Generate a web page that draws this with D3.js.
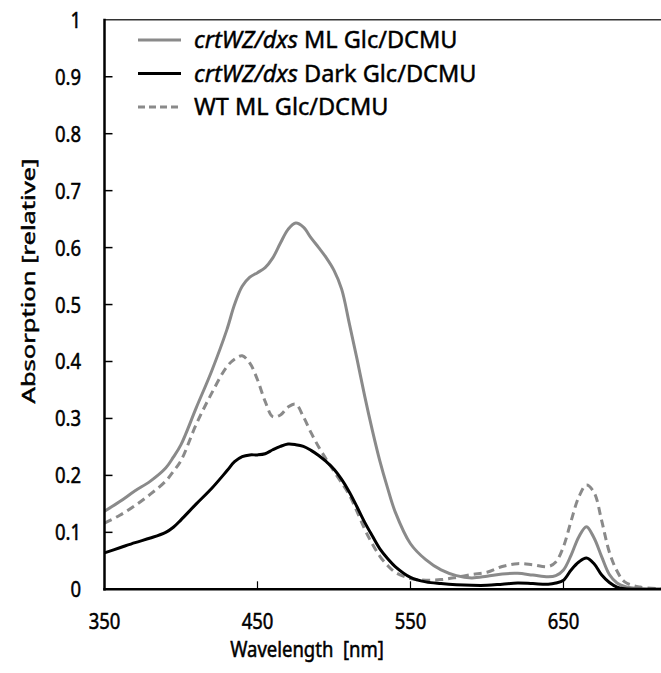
<!DOCTYPE html>
<html lang="en">
<head>
  <meta charset="UTF-8">
  <title>Absorption spectra</title>
  <script src="https://d3js.org/d3.v7.min.js"></script>
  <style>
    body { margin: 0; background: #fff; }
    text { font-family: "Noto Sans", "Open Sans", sans-serif; font-weight: 400; fill: #000; stroke: #000; stroke-width: 0.45px; }
  </style>
</head>
<body>
  <div id="chart"></div>
  <script type="text/javascript">
    // wavelength grid (nm) shared by all three spectra
    var wavelengths = [350, 360, 370, 380, 390, 395, 400, 410, 420, 430, 435, 440, 445, 450, 455, 460, 465, 470, 475, 480, 485,
      490, 495, 500, 505, 510, 515, 520, 525, 530, 535, 540, 550, 560, 570, 580, 590, 600, 610, 620, 630,
      640, 645, 650, 655, 660, 665, 670, 675, 680, 685, 690, 700, 714];

    var mlValues = [0.137, 0.154, 0.173, 0.190, 0.213, 0.232, 0.254, 0.319, 0.383, 0.456, 0.500, 0.532, 0.548, 0.556, 0.565, 0.582, 0.608,
      0.632, 0.643, 0.636, 0.617, 0.600, 0.582, 0.560, 0.527, 0.467, 0.405, 0.340, 0.280, 0.225, 0.178,
      0.136, 0.080, 0.052, 0.034, 0.024, 0.020, 0.023, 0.027, 0.028, 0.025, 0.022, 0.024, 0.034, 0.060,
      0.092, 0.110, 0.090, 0.057, 0.026, 0.011, 0.005, 0.001, 0.0];

    var darkValues = [0.064, 0.073, 0.082, 0.090, 0.100, 0.109, 0.122, 0.150, 0.177, 0.208, 0.224, 0.233, 0.236, 0.236, 0.238, 0.245,
      0.251, 0.255, 0.254, 0.251, 0.244, 0.235, 0.224, 0.211, 0.193, 0.171, 0.145, 0.118, 0.094, 0.071, 0.054,
      0.040, 0.021, 0.013, 0.010, 0.008, 0.007, 0.007, 0.009, 0.011, 0.010, 0.009, 0.011, 0.016, 0.034,
      0.048, 0.055, 0.045, 0.025, 0.012, 0.004, 0.001, 0.0, 0.0];

    var wtValues = [0.116, 0.130, 0.147, 0.167, 0.190, 0.207, 0.226, 0.290, 0.344, 0.391, 0.404, 0.410, 0.397, 0.368, 0.330, 0.303,
      0.306, 0.320, 0.325, 0.303, 0.275, 0.250, 0.228, 0.207, 0.187, 0.166, 0.137, 0.106, 0.080, 0.058, 0.042,
      0.030, 0.019, 0.016, 0.017, 0.021, 0.026, 0.030, 0.040, 0.045, 0.043, 0.040, 0.048, 0.075, 0.120,
      0.162, 0.183, 0.170, 0.120, 0.065, 0.032, 0.013, 0.004, 0.001];

    var xTicks = [350, 450, 550, 650];
    var yTicks = [0, 0.1, 0.2, 0.3, 0.4, 0.5, 0.6, 0.7, 0.8, 0.9, 1];

    var seriesNames = ["ML Glc/DCMU", "Dark Glc/DCMU", "WT ML Glc/DCMU"];

    var width = 661, height = 673;
    var svg = d3.select("#chart").append("svg")
      .attr("width", width)
      .attr("height", height);

    var x = d3.scaleLinear().domain([350, 714]).range([104.5, 661.4]);
    var y = d3.scaleLinear().domain([0, 1]).range([589.3, 19.8]);

    // the original picture is a little stretched vertically, text too
    var stretch = 1.2;

    var series = [
      { name: seriesNames[0], values: mlValues, color: "#8a8a8a", dash: null, italic: "crtWZ/dxs " },
      { name: seriesNames[1], values: darkValues, color: "#000", dash: null, italic: "crtWZ/dxs " },
      { name: seriesNames[2], values: wtValues, color: "#8a8a8a", dash: "8,5", italic: "" }
    ];

    // top frame line
    svg.append("line")
      .attr("x1", x(350)).attr("x2", width)
      .attr("y1", y(1)).attr("y2", y(1))
      .attr("stroke", "#333").attr("stroke-width", 1.5);

    // y ticks point inward
    svg.selectAll(".ytick")
      .data(yTicks.filter(function (d) { return d > 0 && d < 1; }))
      .enter().append("line")
        .attr("x1", x(350)).attr("x2", x(350) + 8)
        .attr("y1", function (d) { return y(d); })
        .attr("y2", function (d) { return y(d); })
        .attr("stroke", "#000").attr("stroke-width", 1.5);

    svg.selectAll(".ylab")
      .data(yTicks)
      .enter().append("text")
        .attr("transform", function (d) { return "translate(81," + y(d) + ") scale(1," + stretch + ")"; })
        .attr("dy", "0.36em")
        .attr("text-anchor", "end")
        .style("font-size", "18.5px")
        .text(function (d) { return d3.format("")(d); });

    // x ticks
    svg.selectAll(".xtick")
      .data(xTicks.slice(1))
      .enter().append("line")
        .attr("x1", function (d) { return x(d); })
        .attr("x2", function (d) { return x(d); })
        .attr("y1", y(0)).attr("y2", y(0) - 8)
        .attr("stroke", "#000").attr("stroke-width", 1.2);

    svg.selectAll(".xlab")
      .data(xTicks)
      .enter().append("text")
        .attr("transform", function (d) { return "translate(" + x(d) + ",629) scale(1," + stretch + ")"; })
        .attr("text-anchor", "middle")
        .style("font-size", "18.5px")
        .text(function (d) { return d; });

    // the spectra
    var line = d3.line()
      .x(function (d) { return x(d[0]); })
      .y(function (d) { return y(d[1]); })
      .curve(d3.curveCatmullRom.alpha(0.5));

    svg.append("clipPath").attr("id", "plotclip")
      .append("rect")
        .attr("x", x(350)).attr("y", 0)
        .attr("width", width - x(350)).attr("height", y(0));

    // draw WT first, then ML, then dark on top
    [series[2], series[0], series[1]].forEach(function (s) {
      svg.append("path")
        .datum(wavelengths.map(function (w, i) { return [w, s.values[i]]; }))
        .attr("clip-path", "url(#plotclip)")
        .attr("fill", "none")
        .attr("stroke", s.color)
        .attr("stroke-width", 3)
        .attr("stroke-dasharray", s.dash)
        .attr("d", line);
    });

    // axes on top
    svg.append("line")
      .attr("x1", x(350)).attr("x2", x(350))
      .attr("y1", y(1) - 1).attr("y2", y(0) + 1.2)
      .attr("stroke", "#000").attr("stroke-width", 2.5);
    svg.append("line")
      .attr("x1", x(350) - 1.2).attr("x2", width)
      .attr("y1", y(0)).attr("y2", y(0))
      .attr("stroke", "#000").attr("stroke-width", 2.5);

    // axis titles
    svg.append("text")
      .attr("transform", "translate(307,657) scale(1," + stretch + ")")
      .attr("text-anchor", "middle")
      .style("font-size", "18.5px")
      .attr("xml:space", "preserve")
      .text("Wavelength  [nm]");

    svg.append("text")
      .attr("transform", "translate(35,281) rotate(-90) scale(1.38,1)")
      .attr("text-anchor", "middle")
      .style("font-size", "18.5px")
      .text("Absorption [relative]");

    // legend
    var legend = svg.selectAll(".legend")
      .data(series)
      .enter().append("g")
        .attr("transform", function (d, i) { return "translate(138," + (40 + i * 33.5) + ")"; });

    legend.append("line")
      .attr("x1", 0).attr("x2", 43)
      .attr("stroke", function (d) { return d.color; })
      .attr("stroke-width", 3)
      .attr("stroke-dasharray", function (d) { return d.dash ? "7,4" : null; });

    var legendText = legend.append("text")
      .attr("x", 56)
      .attr("dy", "0.36em")
      .style("font-size", "23.5px");
    legendText.append("tspan")
      .style("font-style", "italic")
      .text(function (d) { return d.italic; });
    legendText.append("tspan")
      .text(function (d) { return d.name.replace(/^WT /, d.italic ? "" : "WT "); });
  </script>
</body>
</html>
